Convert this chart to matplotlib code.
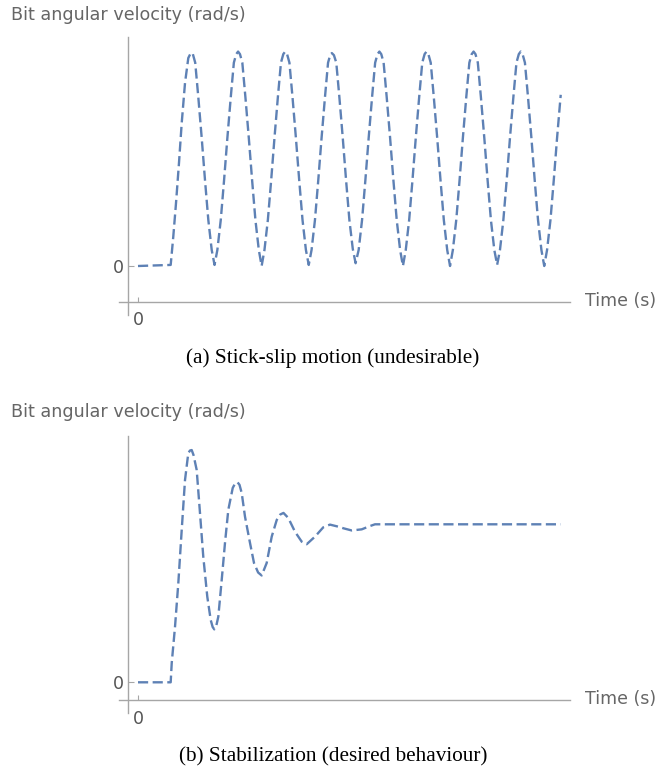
import matplotlib
matplotlib.use("Agg")
import matplotlib.pyplot as plt

# ---------------- data ----------------
# (a) stick-slip motion
t_a = [0.0, 0.694, 0.749, 0.807, 0.870, 0.928, 0.998, 1.068, 1.125,
       1.165, 1.215, 1.280, 1.352, 1.423, 1.493, 1.565, 1.625,
       1.685, 1.757, 1.827, 1.898, 1.970, 2.035, 2.085, 2.125,
       2.165, 2.215, 2.280, 2.352, 2.423, 2.493, 2.565, 2.625,
       2.685, 2.757, 2.827, 2.898, 2.970, 3.035, 3.085, 3.125,
       3.165, 3.215, 3.280, 3.352, 3.423, 3.493, 3.565, 3.625,
       3.685, 3.757, 3.827, 3.898, 3.970, 4.035, 4.080, 4.115,
       4.160, 4.210, 4.275, 4.347, 4.418, 4.488, 4.560, 4.620,
       4.685, 4.757, 4.827, 4.898, 4.970, 5.035, 5.085, 5.125,
       5.165, 5.215, 5.280, 5.352, 5.423, 5.493, 5.565, 5.625,
       5.685, 5.757, 5.827, 5.898, 5.970, 6.035, 6.085, 6.125,
       6.165, 6.215, 6.280, 6.352, 6.423, 6.493, 6.565, 6.625,
       6.685, 6.757, 6.827, 6.898, 6.970, 7.035, 7.085, 7.125,
       7.165, 7.215, 7.280, 7.352, 7.423, 7.493, 7.565, 7.625,
       7.685, 7.757, 7.827, 7.898, 7.970, 8.035, 8.085, 8.125,
       8.165, 8.215, 8.280, 8.352, 8.423, 8.493, 8.565, 8.625,
       8.685, 8.757, 8.827, 8.898, 8.975]
v_a = [0.0, 0.005, 0.137, 0.294, 0.481, 0.668, 0.855, 0.972, 0.997,
       0.99, 0.95, 0.79, 0.60, 0.40, 0.215, 0.075, 0.005,
       0.075, 0.215, 0.40, 0.60, 0.79, 0.95, 0.99, 1.002,
       0.99, 0.95, 0.79, 0.60, 0.40, 0.215, 0.075, 0.0,
       0.075, 0.215, 0.40, 0.60, 0.79, 0.95, 0.99, 1.002,
       0.99, 0.95, 0.79, 0.60, 0.40, 0.215, 0.075, 0.005,
       0.075, 0.215, 0.40, 0.60, 0.79, 0.95, 0.985, 0.995,
       0.985, 0.95, 0.79, 0.60, 0.40, 0.215, 0.08, 0.013,
       0.075, 0.215, 0.40, 0.60, 0.79, 0.95, 0.99, 1.002,
       0.99, 0.95, 0.79, 0.60, 0.40, 0.215, 0.075, 0.0,
       0.075, 0.215, 0.40, 0.60, 0.79, 0.95, 0.99, 1.002,
       0.99, 0.95, 0.79, 0.60, 0.40, 0.215, 0.075, 0.0,
       0.075, 0.215, 0.40, 0.60, 0.79, 0.95, 0.99, 1.002,
       0.99, 0.95, 0.79, 0.60, 0.40, 0.215, 0.075, 0.005,
       0.075, 0.215, 0.40, 0.60, 0.79, 0.95, 0.99, 1.002,
       0.99, 0.95, 0.79, 0.60, 0.40, 0.215, 0.075, 0.0,
       0.075, 0.215, 0.40, 0.60, 0.80]

# (b) stabilization
t_b = [0.0, 0.694, 0.716, 0.786, 0.856, 0.928, 0.998, 1.068, 1.104, 1.140,
       1.178, 1.246, 1.316, 1.386, 1.471, 1.544, 1.585, 1.620,
       1.660, 1.705, 1.777, 1.847, 1.917, 2.011, 2.060, 2.110,
       2.155, 2.202, 2.272, 2.378, 2.463, 2.550, 2.626,
       2.732, 2.839, 2.945, 3.020, 3.089,
       3.191, 3.333, 3.476, 3.582,
       3.758, 3.934, 4.076, 4.253, 4.359, 4.537,
       4.749, 4.926, 5.032, 6.000, 7.000, 8.000, 8.975]
v_b = [0.0, 0.0, 0.122, 0.352, 0.628, 0.964, 1.280, 1.451, 1.467, 1.470,
       1.439, 1.344, 1.072, 0.795, 0.542, 0.394, 0.350, 0.335,
       0.355, 0.415, 0.647, 0.882, 1.091, 1.230, 1.258, 1.267,
       1.250, 1.198, 1.048, 0.882, 0.755, 0.695, 0.676,
       0.755, 0.922, 1.027, 1.062, 1.072,
       1.040, 0.953, 0.890, 0.874,
       0.922, 0.981, 0.998, 0.985, 0.975, 0.961,
       0.968, 0.989, 1.000, 1.000, 1.000, 1.000, 1.000]

ylabel_text = "Bit angular velocity (rad/s)"
xlabel_text = "Time (s)"
captions = ["(a) Stick-slip motion (undesirable)",
            "(b) Stabilization (desired behaviour)"]

# ---------------- layout (pixels) ----------------
W, H = 655, 772
fig = plt.figure(figsize=(W / 100, H / 100), dpi=100)

LINE_COLOR = "#5e81b5"
AXIS_COLOR = "#a6a6a6"
TEXT_COLOR = "#666666"

xpx_left, xpx_right, xpx0, xscale = 119, 570, 138, 47.1


def make_panel(ax_top, ax_bottom, y0px, yscale, xaxis_px, t, v, label_y, caption_y, caption):
    ax = fig.add_axes([xpx_left / W, 1 - ax_bottom / H,
                       (xpx_right - xpx_left) / W, (ax_bottom - ax_top) / H])
    ax.set_xlim((xpx_left - xpx0) / xscale, (xpx_right - xpx0) / xscale)
    ax.set_ylim((y0px - ax_bottom) / yscale, (y0px - ax_top) / yscale)
    ax.plot(t, v, color=LINE_COLOR, lw=1.7, linestyle=(0, (4.3, 1.9)),
            solid_joinstyle="round", dash_joinstyle="round")
    for s in ["top", "right"]:
        ax.spines[s].set_visible(False)
    ax.spines["bottom"].set_position(("data", (y0px - xaxis_px) / yscale))
    ax.spines["left"].set_position(("data", (127.7 - xpx0) / xscale))
    for s in ["bottom", "left"]:
        ax.spines[s].set_color(AXIS_COLOR)
        ax.spines[s].set_linewidth(1.0)
    ax.set_xticks([0])
    ax.set_yticks([0])
    ax.set_xticklabels(["0"])
    ax.set_yticklabels(["0"])
    ax.tick_params(axis="x", direction="in", length=3.5, width=0.8,
                   color=AXIS_COLOR, labelcolor="#555555", labelsize=12.5, pad=7)
    ax.tick_params(axis="y", direction="in", length=4, width=0.8,
                   color=AXIS_COLOR, labelcolor="#555555", labelsize=12.5, pad=3)
    ax.patch.set_visible(False)
    fig.text(11 / W, 1 - label_y / H, ylabel_text, color=TEXT_COLOR,
             fontsize=12.6, ha="left", va="center", family="DejaVu Sans")
    fig.text(585 / W, 1 - (xaxis_px - 1) / H, xlabel_text, color=TEXT_COLOR,
             fontsize=12.5, ha="left", va="center", family="DejaVu Sans")
    fig.text(333 / W, 1 - caption_y / H, caption, color="black",
             fontsize=15.3, ha="center", va="center", family="Liberation Serif")
    return ax


make_panel(37.3, 315, 266, 214, 301.5, t_a, v_a, 15, 358, captions[0])
make_panel(435.7, 713, 682.3, 158, 700, t_b, v_b, 412, 757, captions[1])

fig.savefig("out.png", dpi=100)
